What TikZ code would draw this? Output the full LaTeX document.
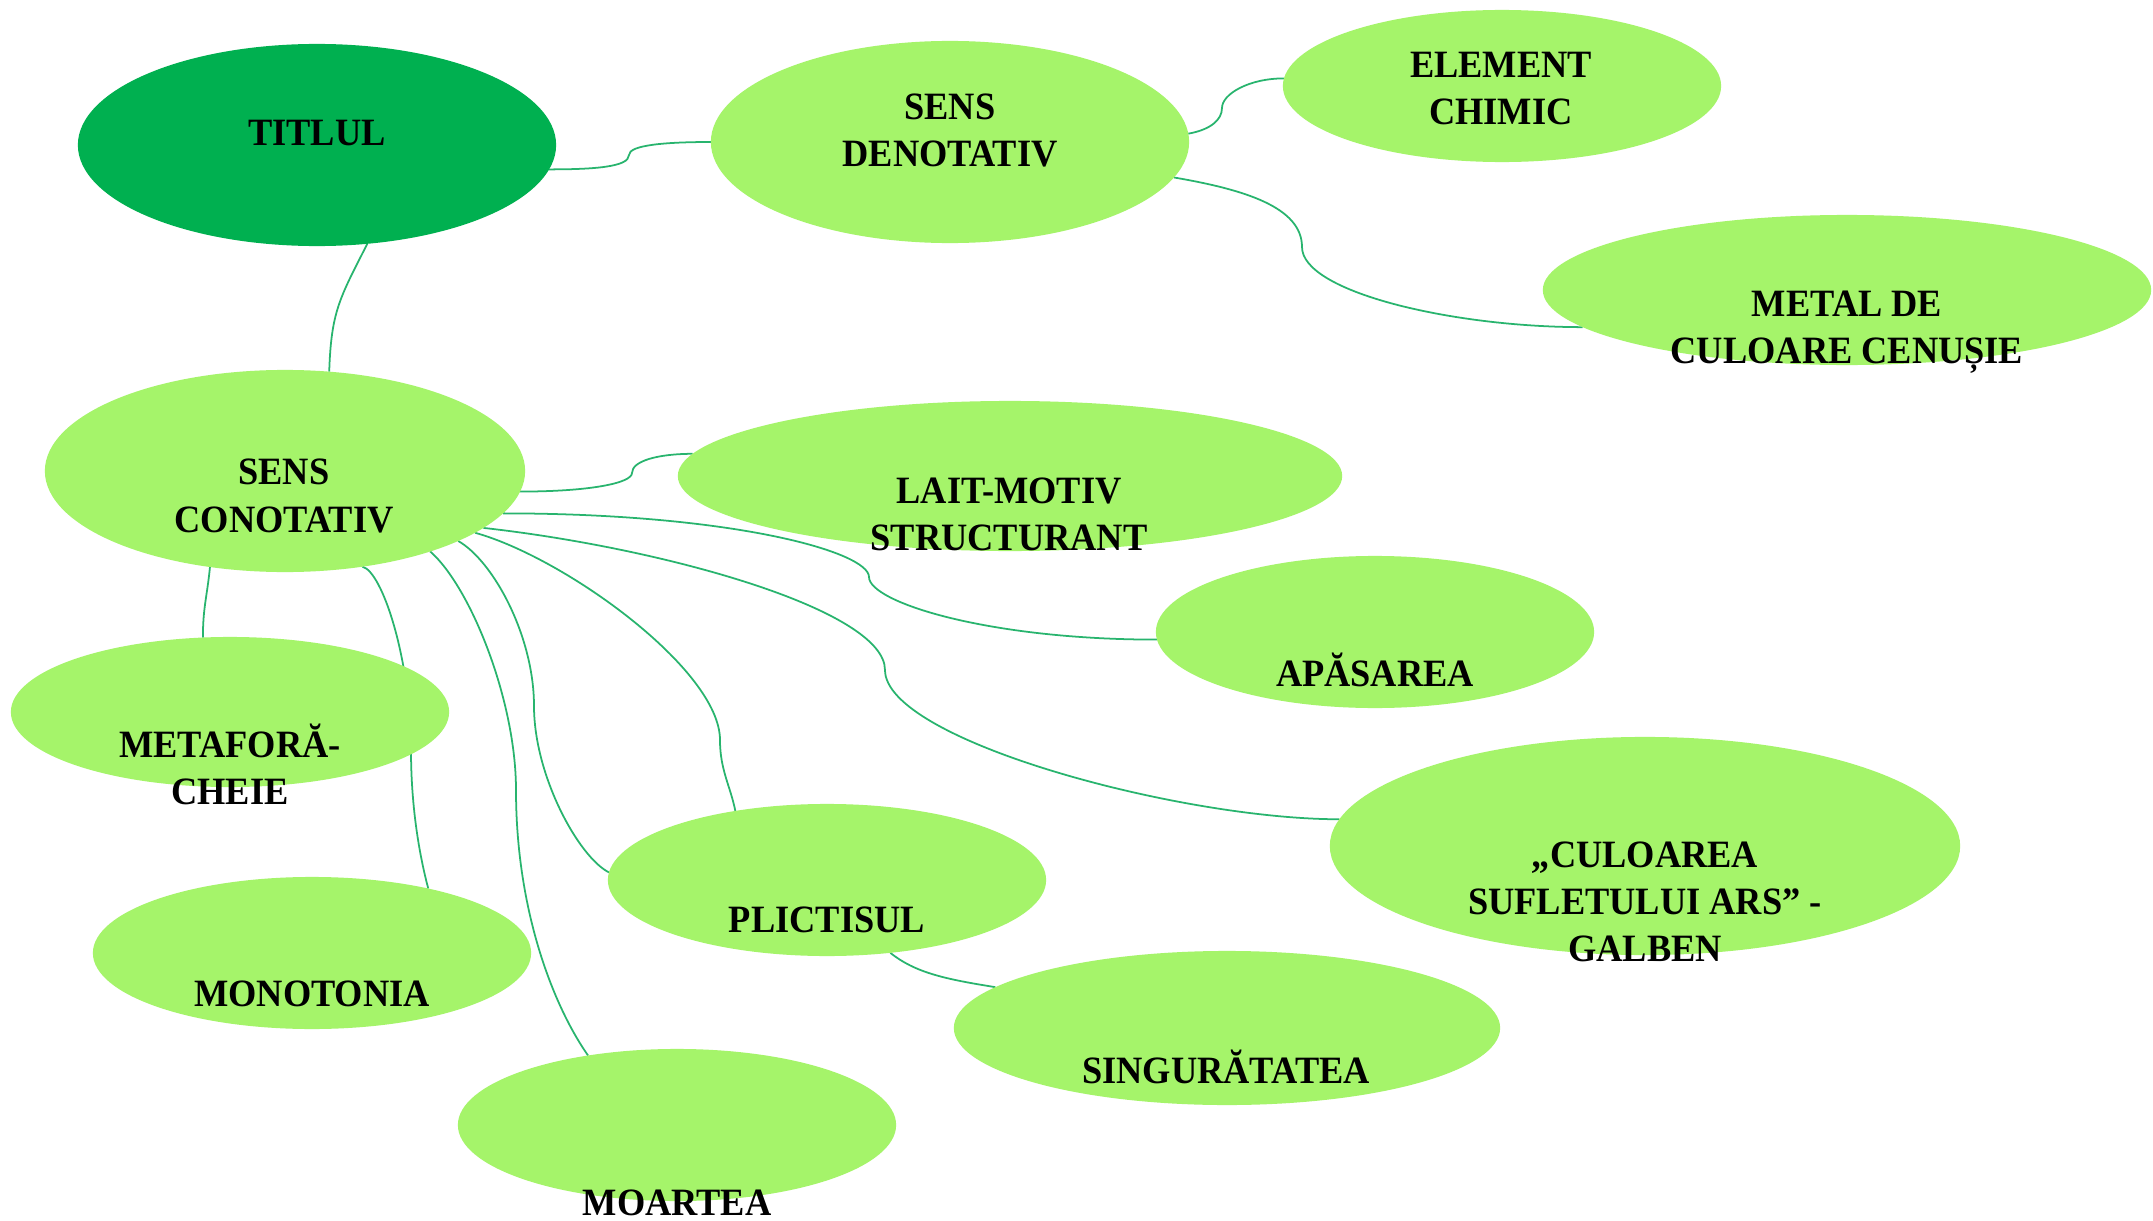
\documentclass[tikz,border=0pt]{standalone}
\usepackage{fontspec}
\setmainfont{Liberation Serif}[FakeStretch=0.94]
\usetikzlibrary{shapes.geometric,backgrounds}
\definecolor{dk}{RGB}{0,176,80}
\definecolor{lt}{RGB}{165,244,106}
\definecolor{ln}{RGB}{40,180,110}
\tikzset{
  bub/.style={ellipse, fill=lt, draw=none, inner sep=0pt, outer sep=0pt},
  lbl/.style={font=\fontsize{11}{13.4}\selectfont\bfseries, align=center, inner sep=0pt, text=black},
  conn/.style={draw=ln, line width=0.5pt},
}
\begin{document}
\begin{tikzpicture}[x=0.01cm,y=-0.01cm]
\useasboundingbox (0,0) rectangle (2153,1221);
% ellipses
\node[bub, fill=dk, minimum width=4.78cm, minimum height=2.02cm] (ti) at (317,145) {};
\node[bub, minimum width=4.78cm, minimum height=2.02cm] (sd) at (950,142) {};
\node[bub, minimum width=4.38cm, minimum height=1.52cm] (ec) at (1502,86) {};
\node[bub, minimum width=6.08cm, minimum height=1.50cm] (me) at (1847,290) {};
\node[bub, minimum width=4.80cm, minimum height=2.02cm] (sc) at (285,471) {};
\node[bub, minimum width=6.64cm, minimum height=1.50cm] (lm) at (1010,476) {};
\node[bub, minimum width=4.38cm, minimum height=1.52cm] (ap) at (1375,632) {};
\node[bub, minimum width=6.30cm, minimum height=2.18cm] (cu) at (1645,846) {};
\node[bub, minimum width=4.38cm, minimum height=1.50cm] (mf) at (230,712) {};
\node[bub, minimum width=4.38cm, minimum height=1.52cm] (mn) at (312,953) {};
\node[bub, minimum width=4.38cm, minimum height=1.52cm] (pl) at (827,880) {};
\node[bub, minimum width=4.38cm, minimum height=1.52cm] (mo) at (677,1125) {};
\node[bub, minimum width=5.46cm, minimum height=1.54cm] (sg) at (1227,1028) {};
% labels
\node[lbl] (ti-t) at (317,133) {TITLUL};
\node[lbl] (sd-t) at (950,130.5) {SENS\\DENOTATIV};
\node[lbl] (ec-t) at (1501,88.5) {ELEMENT\\CHIMIC};
\node[lbl] (me-t) at (1847,332) {METAL DE\\CULOARE CENUȘIE};
\node[lbl] (sc-t) at (284,496) {SENS\\CONOTATIV};
\node[lbl] (lm-t) at (1009,514) {LAIT-MOTIV\\STRUCTURANT};
\node[lbl] (ap-t) at (1375,670) {APĂSAREA};
\node[lbl] (cu-t) at (1645,902) {„CULOAREA\\SUFLETULUI ARS” -\\GALBEN};
\node[lbl] (mf-t) at (230,764) {METAFORĂ-\\CHEIE};
\node[lbl] (mn-t) at (312,994) {MONOTONIA};
\node[lbl] (pl-t) at (827,920) {PLICTISUL};
\node[lbl] (mo-t) at (677,1203) {MOARTEA};
\node[lbl] (sg-t) at (1226,1067) {SINGURĂTATEA};
% connector bends
\coordinate (m1) at (629,155);
\coordinate (m2) at (1222,108);
\coordinate (m3) at (1302,247);
\coordinate (m5) at (632,473);
\coordinate (m6) at (869,577);
\coordinate (m7) at (885,670);
\coordinate (m8) at (720,740);
\coordinate (m9) at (534,706);
\coordinate (m10) at (516,790);
\coordinate (m11) at (411,750);
\begin{pgfonlayer}{background}
\fill[white] (0,0) rectangle (2153,1221);
\draw[conn] (ti.-6) .. controls +(45,0) and +(0,12) .. (m1) .. controls +(0,-10) and +(-45,0) .. (sd.180);
\draw[conn] (sd.2) .. controls +(22,-4) and +(0,12) .. (m2) .. controls +(0,-14) and +(-35,0) .. (ec.178);
\draw[conn] (sd.-9) .. controls +(70,12) and +(0,-40) .. (m3) .. controls +(0,45) and +(-130,0) .. (me.-172);
\draw[conn] (ti.-63) .. controls +(-28,55) and +(2,-60) .. (sc.66);
\draw[conn] (sc.-5) .. controls +(70,0) and +(0,10) .. (m5) .. controls +(0,-12) and +(-35,0) .. (lm.176);
\draw[conn] (sc.-11) .. controls +(230,0) and +(0,-25) .. (m6) .. controls +(0,25) and +(-170,0) .. (ap.-178);
\draw[conn] (sc.-16) .. controls +(180,20) and +(0,-60) .. (m7) .. controls +(0,70) and +(-160,0) .. (cu.175);
\draw[conn] (sc.-18) .. controls +(90,25) and +(0,-70) .. (m8) .. controls +(0,30) and +(-5,-25) .. (pl.143);
\draw[conn] (sc.-22) .. controls +(35,20) and +(0,-70) .. (m9) .. controls +(0,70) and +(-30,-15) .. (pl.178);
\draw[conn] (sc.-29) .. controls +(40,35) and +(0,-90) .. (m10) .. controls +(0,120) and +(-35,-50) .. (mo.142);
\draw[conn] (sc.-51) .. controls +(20,5) and +(0,-90) .. (m11) .. controls +(0,60) and +(-8,-30) .. (mn.29);
\draw[conn] (sc.-128) .. controls +(-3,30) and +(0,-30) .. (mf.110);
\draw[conn] (pl.-49) .. controls +(25,20) and +(-50,-8) .. (sg.170);
\end{pgfonlayer}
\end{tikzpicture}
\end{document}
